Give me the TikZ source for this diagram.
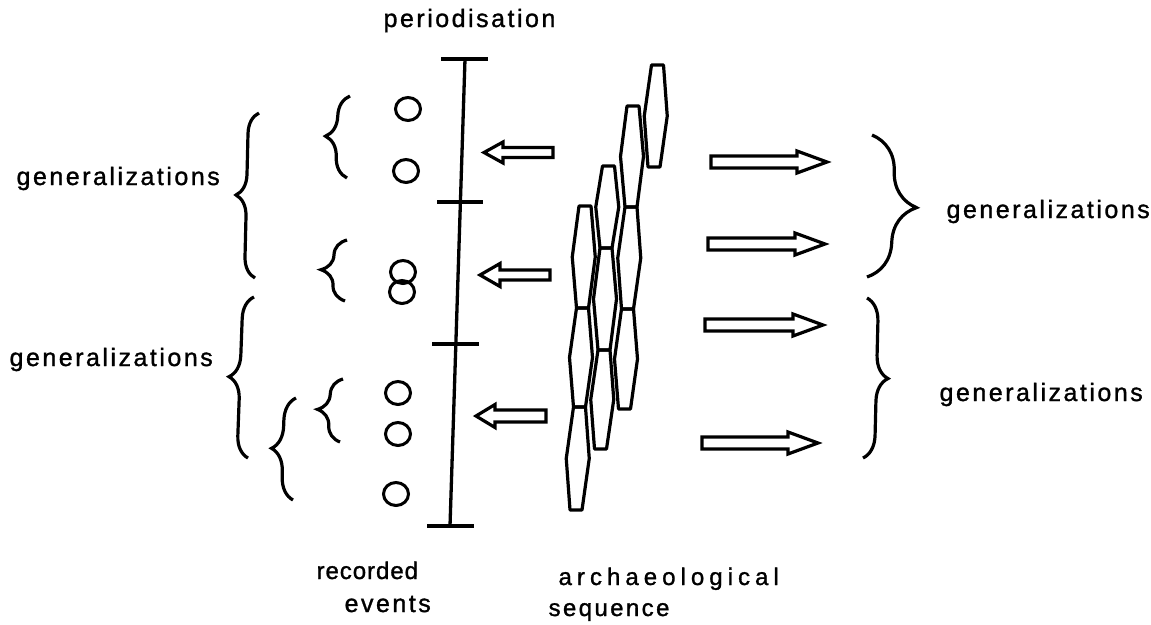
\documentclass[tikz,border=0pt]{standalone}
\usepackage{fontspec}
\setmainfont{Liberation Sans}
\newfontfamily\lblfont[LetterSpace=10,FakeBold=1.2]{Liberation Sans}
\newfontfamily\recfont[LetterSpace=4,FakeBold=1.2]{Liberation Sans}
\newfontfamily\arcfont[LetterSpace=21,FakeBold=1.2]{Liberation Sans}
\usetikzlibrary{decorations.pathreplacing,shapes.geometric}
\newcommand{\blockarr}[6]{% tail x, tip x, y, shaft half, head half, head length (negative = points left)
  \draw[blk] (#1,#3-#4) -- ({#2-(#6)},#3-#4) -- ({#2-(#6)},#3-#5) -- (#2,#3)
    -- ({#2-(#6)},#3+#5) -- ({#2-(#6)},#3+#4) -- (#1,#3+#4) -- cycle;}
\newcommand{\hexa}[4]{% top centre x, top y, bottom centre x, bottom y
  \draw[hexline] ({#1-6},#2) -- ({#1+6},#2) -- ({(#1+#3)/2+11.5},{(#2+#4)/2})
    -- ({#3+6},#4) -- ({#3-6},#4) -- ({(#1+#3)/2-11.5},{(#2+#4)/2}) -- cycle;}
\begin{document}
\begin{tikzpicture}[x=1pt,y=-1pt,
  line width=3.2pt,
  lbl/.style={font=\fontsize{25}{30}\selectfont\lblfont, inner sep=0pt, anchor=base west},
  lblr/.style={font=\fontsize{24}{30}\selectfont\recfont, inner sep=0pt, anchor=base west},
  lbla/.style={font=\fontsize{24}{30}\selectfont\arcfont, inner sep=0pt, anchor=base west},
  lbls/.style={font=\fontsize{24}{30}\selectfont\lblfont, inner sep=0pt, anchor=base west},
  evt/.style={draw, ellipse, minimum width=25pt, minimum height=23pt, inner sep=0pt, line width=3pt},
  brc/.style={decorate, decoration={brace, amplitude=#1, aspect=0.5}, line width=3.2pt},
  blk/.style={line width=3.2pt, line join=miter},
  hexline/.style={line width=3.2pt, line join=round},
  tick/.style={line width=3.3pt}]
\useasboundingbox (0,0) rectangle (1151,624);
\fill[white] (0,0) rectangle (1151,624);

% labels
\node[lbl] (tper) at (382,27) {periodisation};
\node[lbl] (tgl1) at (15,185) {generalizations};
\node[lbl] (tgl2) at (8,366) {generalizations};
\node[lbl] (tgr1) at (945,218) {generalizations};
\node[lbl] (tgr2) at (938,401) {generalizations};
\node[lblr] (trec) at (315,579) {recorded};
\node[lbl] (tev) at (343,612) {events};
\node[lbla] (tarc) at (557,585) {archaeological};
\node[lbls] (tseq) at (547,616) {sequence};

% periodisation scale
\coordinate (s0) at (465,59);
\coordinate (s3) at (450,526);
\draw[tick] (s0) -- (s3);
\draw[tick] (441,59) -- (488,59);
\draw[tick] (437,202) -- (483,202);
\draw[tick] (432,344) -- (479,344);
\draw[tick] (427,526) -- (474,526);

% recorded events
\node[evt] (e1) at (408,109) {};
\node[evt] (e2) at (406,171) {};
\node[evt] (e3) at (403,272) {};
\node[evt] (e4) at (402,292) {};
\node[evt] (e5) at (398,393) {};
\node[evt] (e6) at (398,434) {};
\node[evt] (e7) at (396,494) {};

% left braces
\draw[brc=21pt] (255,278) -- (259,113);
\draw[brc=22pt] (248,458) -- (254,297);
\draw[brc=23pt] (347,178) -- (350,96);
\draw[brc=25pt] (345,301) -- (347,240);
\draw[brc=24pt] (340,442) -- (343,379);
\draw[brc=23pt] (293,500) -- (296,398);

% right braces
\draw[brc=47pt] (872,135) -- (867,277);
\draw[brc=23pt] (867,298) -- (863,458);

% left arrows
\blockarr{553}{484}{152.5}{5}{10.5}{-19}
\blockarr{550}{480}{275}{5}{11.5}{-20}
\blockarr{546}{476}{416}{6}{11.5}{-19}

% right arrows
\blockarr{711}{827}{162}{6}{11}{30}
\blockarr{708}{825}{244}{6}{11}{30}
\blockarr{705}{823}{325}{6}{11}{30}
\blockarr{702}{818}{443}{6}{11}{30}

% archaeological sequence
\hexa{657.5}{65}{654}{167}
\hexa{633}{106}{631}{207}
\hexa{631}{207}{627.5}{309}
\hexa{627.5}{309}{624.5}{409}
\hexa{608.5}{166}{606}{248}
\hexa{606}{248}{604}{350}
\hexa{604}{350}{600.5}{449}
\hexa{585}{206}{582.5}{308}
\hexa{582.5}{308}{579.5}{407}
\hexa{579.5}{407}{576}{510}
\end{tikzpicture}
\end{document}
